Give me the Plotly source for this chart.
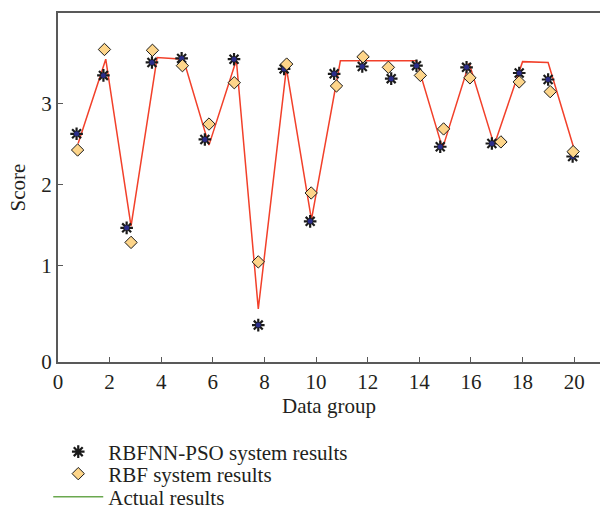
import plotly.graph_objects as go

# Data
pso_x = [0.72, 1.76, 2.66, 3.64, 4.79, 5.69, 6.82, 7.76, 8.76, 9.77,
         10.70, 11.79, 12.91, 13.89, 14.81, 15.83, 16.81, 17.87, 18.99, 19.94]
pso_y = [2.63, 3.35, 1.47, 3.51, 3.56, 2.56, 3.55, 0.27, 3.43, 1.55,
         3.37, 3.46, 3.31, 3.47, 2.47, 3.45, 2.51, 3.38, 3.30, 2.35]

rbf_x = [0.76, 1.80, 2.83, 3.66, 4.82, 5.85, 6.83, 7.76, 8.86, 9.81,
         10.79, 11.82, 12.80, 14.04, 14.94, 15.96, 17.16, 17.87, 19.07, 19.96]
rbf_y = [2.43, 3.67, 1.29, 3.66, 3.47, 2.75, 3.26, 1.05, 3.49, 1.90,
         3.22, 3.58, 3.45, 3.35, 2.69, 3.32, 2.53, 3.27, 3.15, 2.41]

act_x = [0.78, 1.85, 2.83, 3.84, 4.86, 5.85, 6.91, 7.76, 8.85, 9.82,
         10.94, 11.90, 12.90, 13.89, 14.90, 15.93, 16.90, 18.00, 18.99, 19.97]
act_y = [2.51, 3.55, 1.49, 3.57, 3.55, 2.49, 3.54, 0.47, 3.44, 1.57,
         3.53, 3.53, 3.53, 3.53, 2.45, 3.50, 2.49, 3.52, 3.51, 2.47]

x_ticks = [0, 2, 4, 6, 8, 10, 12, 14, 16, 18, 20]
y_min, y_max = -0.185, 4.12
y_tickvals = [y_min, 1, 2, 3]
y_ticktext = ["0", "1", "2", "3"]

FONT = "Liberation Serif"
FS = 21
AXIS_COLOR = "#595959"

fig = go.Figure()

# Actual results line (red in plot)
fig.add_trace(go.Scatter(x=act_x, y=act_y, mode="lines",
                         line=dict(color="#f2402a", width=1.5),
                         showlegend=False, hoverinfo="skip"))

# RBFNN-PSO stars
fig.add_trace(go.Scatter(x=pso_x, y=pso_y, mode="markers",
                         name="RBFNN-PSO system results", legend="legend",
                         marker=dict(symbol="asterisk-open", size=10.5, color="#1a1a1a",
                                     line=dict(color="#1a1a1a", width=2.2))))
fig.add_trace(go.Scatter(x=pso_x, y=pso_y, mode="markers", showlegend=False,
                         marker=dict(symbol="circle", size=5, color="#2b2d8a",
                                     line=dict(width=0))))

# RBF diamonds
fig.add_trace(go.Scatter(x=rbf_x, y=rbf_y, mode="markers",
                         name="RBF system results", legend="legend2",
                         marker=dict(symbol="diamond", size=9.5, color="#fdd58a",
                                     line=dict(color="#1a1a1a", width=1))))

# Legend entry for actual results (green in legend)
fig.add_trace(go.Scatter(x=[None], y=[None], mode="lines", name="Actual results",
                         legend="legend3",
                         line=dict(color="#6aa84f", width=1.5)))


def leg(ypx):
    return dict(x=-0.018, y=(362 - ypx) / 349, xanchor="left", yanchor="middle",
                orientation="v", bgcolor="rgba(0,0,0,0)",
                font=dict(family=FONT, size=FS), itemwidth=50)


fig.update_layout(
    width=600, height=512,
    margin=dict(l=58, r=0, t=13, b=150, autoexpand=False),
    paper_bgcolor="white", plot_bgcolor="white",
    font=dict(family=FONT, size=FS, color="#231f20"),
    showlegend=True,
    legend=leg(452), legend2=leg(474), legend3=leg(497),
    xaxis=dict(range=[0, 21], tickvals=x_ticks, ticks="inside", ticklen=5,
               tickcolor=AXIS_COLOR, tickwidth=1.2,
               showline=True, linecolor=AXIS_COLOR, linewidth=2, mirror=True,
               showgrid=False, zeroline=False,
               tickfont=dict(family=FONT, size=FS),
               title=dict(text="Data group", standoff=4,
                          font=dict(family=FONT, size=FS))),
    yaxis=dict(range=[y_min, y_max], tickvals=y_tickvals, ticktext=y_ticktext,
               ticks="inside", ticklen=5, tickcolor=AXIS_COLOR, tickwidth=1.2,
               showline=True, linecolor=AXIS_COLOR, linewidth=2, mirror=False,
               showgrid=False, zeroline=False,
               tickfont=dict(family=FONT, size=FS),
               title=dict(text="Score", standoff=10,
                          font=dict(family=FONT, size=FS))),
)

fig.write_html("out.html")
